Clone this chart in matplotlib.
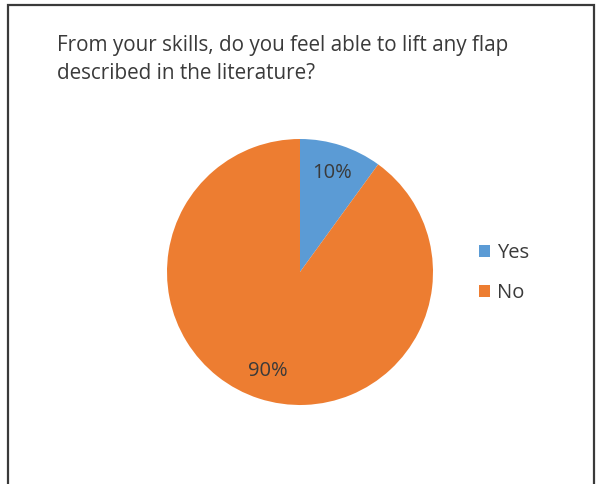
import matplotlib.pyplot as plt
from matplotlib.patches import Rectangle, Patch

labels = ['Yes', 'No']
values = [10, 90]
colors = ['#5B9BD5', '#ED7D31']

W, H = 597, 484
fig = plt.figure(figsize=(W / 100, H / 100), dpi=100)
plt.rcParams['font.family'] = ['Open Sans', 'DejaVu Sans']
txt = '#3a3a3a'

# frame around the chart
fig.patches.append(Rectangle((8 / W, -0.05), 586 / W, 1.05 - 5 / H,
                             transform=fig.transFigure, fill=False,
                             edgecolor='#3a3a3a', linewidth=1.6))

fig.text(57 / W, 1 - 79 / H,
         'From your skills, do you feel able to lift any flap\ndescribed in the literature?',
         fontsize=14.9, color=txt, va='baseline', ha='left', linespacing=1.45)

ax = fig.add_axes([167 / W, 1 - 405 / H, 266 / W, 266 / H])
wedges, _, autotexts = ax.pie(values, colors=colors, startangle=90, counterclock=False,
                              autopct='%1.0f%%', pctdistance=0.78,
                              textprops=dict(fontsize=14.5, color=txt))
ax.set_xlim(-1, 1)
ax.set_ylim(-1, 1)
ax.set_aspect('equal')
ax.axis('off')

handles = [Patch(facecolor=c, label=l) for c, l in zip(colors, labels)]
fig.legend(handles=handles, loc='center left', bbox_to_anchor=(479 / W, 1 - 273 / H),
           frameon=False, fontsize=14.5, handlelength=0.55, handleheight=0.55,
           handletextpad=0.35, labelspacing=1.0, labelcolor=txt,
           borderpad=0, borderaxespad=0)

fig.savefig('out.png', dpi=100)
